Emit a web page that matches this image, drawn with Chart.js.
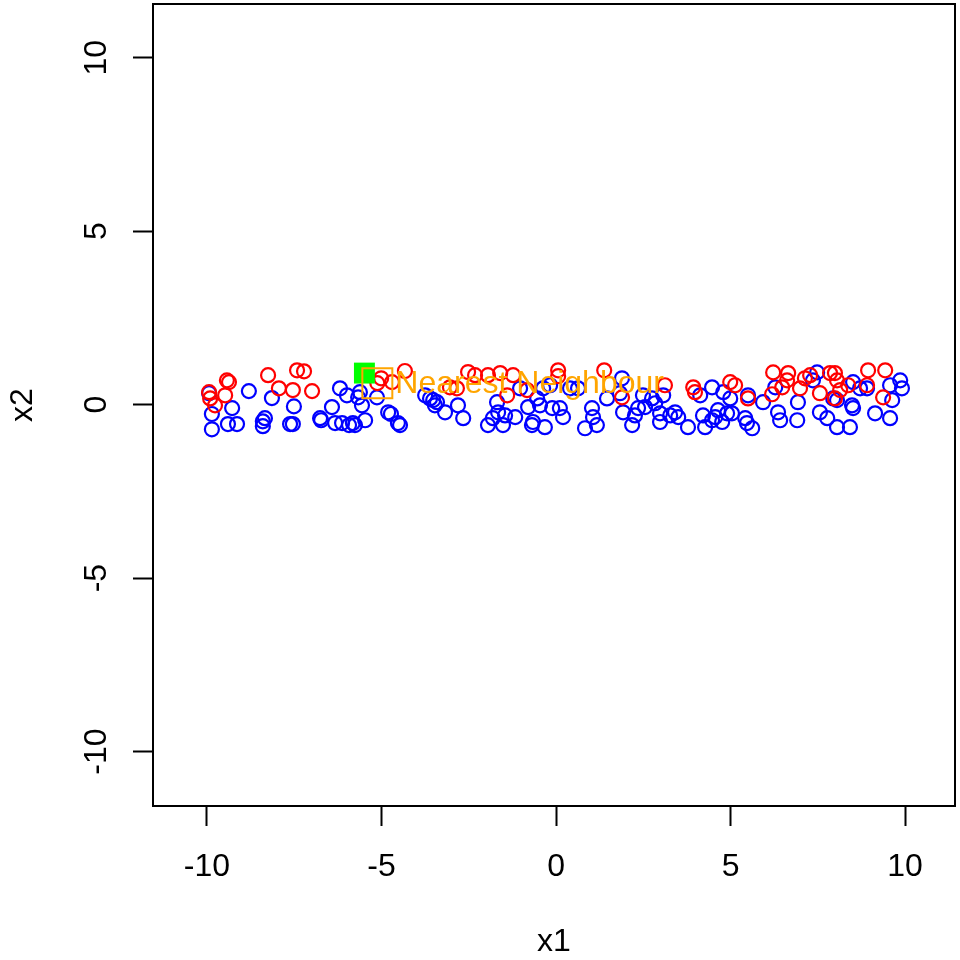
<!DOCTYPE html>
<html>
<head>
<meta charset="utf-8">
<script src="https://cdn.jsdelivr.net/npm/chart.js@4/dist/chart.umd.min.js"></script>
<style>
  html, body { margin: 0; padding: 0; background: #fff; }
  canvas { display: block; }
</style>
</head>
<body>
<canvas id="knnChart" width="960" height="960"></canvas>
<script>
/* ============================= */
/* DATA */
/* ============================= */

const redX = [-9.94, -9.91, -9.77, -9.43, -9.37, -9.48, -8.25, -7.94, -7.54, -7.42, -7.22, -6.99,
  -5.12, -5.01, -4.70, -4.33, -3.04, -2.84, -2.52, -2.32, -1.95, -1.60, -1.40, -1.23, -0.83,
  0.06, 0.06, 1.38, 1.89, 3.12, 3.93, 3.98, 4.99, 5.13, 5.50, 6.22, 6.65, 6.62, 6.99, 7.13,
  7.28, 7.56, 7.85, 7.99, 8.05, 7.99, 8.14, 8.37, 8.94, 8.91, 9.43, 9.37, 6.19, 6.48];
const redY = [0.36, 0.18, -0.02, 0.70, 0.65, 0.27, 0.85, 0.47, 0.42, 0.99, 0.96, 0.39,
  0.62, 0.76, 0.65, 0.97, 0.50, 0.47, 0.94, 0.85, 0.85, 0.91, 0.27, 0.85, 0.42,
  0.99, 0.82, 0.99, 0.21, 0.56, 0.50, 0.36, 0.65, 0.56, 0.18, 0.93, 0.91, 0.70, 0.47, 0.76,
  0.85, 0.33, 0.91, 0.91, 0.70, 0.18, 0.42, 0.56, 0.99, 0.56, 0.99, 0.21, 0.30, 0.50];

const blueX = [-9.94, -9.86, -9.86, -9.28, -9.40, -9.14, -8.80, -8.14, -8.34, -8.40, -8.40, -7.51,
  -7.62, -7.54, -6.76, -6.73, -6.42, -6.33, -6.19, -5.99, -6.13, -5.82, -5.93, -5.76, -5.47,
  -5.67, -5.56, -5.62, -5.13, -4.81, -4.73, -4.53, -4.47, -3.75, -3.61, -3.52, -3.41, -3.47,
  -3.18, -2.81, -2.66, -1.95, -1.81, -1.66, -1.52, -1.46, -1.17, -1.69, -1.03, -0.80, -0.66,
  -0.69, -0.46, -0.54, -0.32, -0.37, -0.17, -0.11, 0.11, 0.20, 0.40, 0.63, 1.03, 1.06, 0.83,
  1.17, 1.46, 1.89, 1.83, 1.92, 2.18, 2.26, 2.35, 2.49, 2.55, 2.75, 2.84, 2.98, 2.98, 3.07,
  3.27, 3.41, 3.50, 3.78, 4.13, 4.21, 4.27, 4.47, 4.47, 4.56, 4.64, 4.76, 4.90, 4.79, 4.99,
  5.04, 5.42, 5.47, 5.62, 5.50, 5.93, 6.28, 6.36, 6.42, 6.91, 6.93, 7.36, 7.48, 7.56, 7.77,
  7.94, 8.05, 8.05, 8.42, 8.48, 8.51, 8.51, 8.71, 8.91, 9.14, 9.57, 9.57, 9.63, 9.86, 9.91];
const blueY = [0.33, -0.27, -0.71, -0.10, -0.56, -0.56, 0.39, 0.19, -0.39, -0.48, -0.62, -0.05,
  -0.56, -0.56, -0.39, -0.45, -0.07, -0.53, 0.47, 0.27, -0.53, -0.53, -0.59, -0.59, -0.45,
  0.21, -0.02, 0.36, 0.21, -0.22, -0.27, -0.53, -0.59, 0.27, 0.18, 0.13, 0.07, -0.02,
  -0.22, -0.02, -0.39, -0.59, -0.39, -0.22, -0.59, -0.31, -0.36, 0.07, 0.47, -0.07, -0.50,
  -0.59, -0.02, 0.18, -0.65, 0.47, 0.56, -0.10, -0.10, -0.36, 0.47, 0.47, -0.10, -0.36, -0.68,
  -0.59, 0.18, 0.76, 0.33, -0.22, -0.59, -0.31, -0.10, 0.27, -0.07, 0.18, 0.04, -0.25, -0.50, 0.27,
  -0.31, -0.22, -0.36, -0.65, 0.27, -0.31, -0.65, 0.50, -0.45, -0.36, -0.16, -0.50, -0.25, 0.36, 0.18,
  -0.25, -0.39, -0.53, -0.68, 0.27, 0.07, 0.50, -0.22, -0.45, -0.45, 0.07, 0.70, 0.93, -0.22, -0.39,
  0.18, 0.13, -0.65, -0.65, -0.02, -0.10, 0.65, 0.47, 0.47, -0.25, -0.39, 0.56, 0.13, 0.70, 0.47];

const queryPoint = { x: -5.49, y: 0.91 };
const nearestPoint = { x: -5.12, y: 0.62 };
const nearestLabel = "Nearest Neighbour";

const xTicks = [-10, -5, 0, 5, 10];
const yTicks = [-10, -5, 0, 5, 10];
const xTitle = "x1";
const yTitle = "x2";

/* ============================= */
/* HELPERS */
/* ============================= */

const FONT = '"Liberation Sans", Arial, Helvetica, sans-serif';

function toPoints(xs, ys) {
  return xs.map((x, i) => ({ x: x, y: ys[i] }));
}

const axisText = {
  id: "axisText",
  afterDraw(chart) {
    const ctx = chart.ctx;
    const area = chart.chartArea;
    const xs = chart.scales.x;
    const ys = chart.scales.y;

    ctx.save();
    // box round the plot
    ctx.strokeStyle = "#000";
    ctx.lineWidth = 2;
    ctx.strokeRect(area.left, area.top, area.right - area.left, area.bottom - area.top);

    ctx.fillStyle = "#000";
    ctx.font = "32px " + FONT;
    ctx.textAlign = "center";
    ctx.textBaseline = "middle";

    xs.ticks.forEach((t) => {
      ctx.fillText(String(t.value), xs.getPixelForValue(t.value), 867);
    });
    ys.ticks.forEach((t) => {
      ctx.save();
      ctx.translate(97, ys.getPixelForValue(t.value));
      ctx.rotate(-Math.PI / 2);
      ctx.fillText(String(t.value), 0, 0);
      ctx.restore();
    });

    ctx.fillText(xTitle, (area.left + area.right) / 2, 942);
    ctx.save();
    ctx.translate(23, (area.top + area.bottom) / 2);
    ctx.rotate(-Math.PI / 2);
    ctx.fillText(yTitle, 0, 0);
    ctx.restore();

    // label next to the nearest neighbour
    ctx.fillStyle = "#FFA500";
    ctx.textAlign = "left";
    ctx.textBaseline = "alphabetic";
    const px = xs.getPixelForValue(nearestPoint.x);
    const py = ys.getPixelForValue(nearestPoint.y);
    ctx.fillText(nearestLabel, px + 18, py + 10);
    ctx.restore();
  },
};

/* ============================= */
/* CHART */
/* ============================= */

new Chart(document.getElementById("knnChart"), {
  type: "scatter",
  data: {
    datasets: [
      {
        label: "nearest",
        data: [nearestPoint],
        pointStyle: "rect",
        pointRadius: 21.2,
        borderColor: "#FFA500",
        backgroundColor: "rgba(0,0,0,0)",
        borderWidth: 2,
        order: 1,
      },
      {
        label: "query",
        data: [queryPoint],
        pointStyle: "rect",
        pointRadius: 14.8,
        borderWidth: 0,
        backgroundColor: "#00FF00",
        borderColor: "#00FF00",
        order: 2,
      },
      {
        label: "red",
        data: toPoints(redX, redY),
        pointRadius: 7,
        borderWidth: 2.2,
        borderColor: "#FF0000",
        backgroundColor: "rgba(0,0,0,0)",
        order: 3,
      },
      {
        label: "blue",
        data: toPoints(blueX, blueY),
        pointRadius: 7,
        borderWidth: 2.2,
        borderColor: "#0000FF",
        backgroundColor: "rgba(0,0,0,0)",
        order: 4,
      },
    ],
  },
  options: {
    responsive: false,
    animation: false,
    devicePixelRatio: 1,
    layout: { autoPadding: false, padding: { top: 4, right: 5, left: 0, bottom: 0 } },
    plugins: { legend: { display: false }, tooltip: { enabled: false } },
    elements: { point: { hoverRadius: 7 } },
    scales: {
      x: {
        type: "linear",
        position: "bottom",
        min: -11.547,
        max: 11.43,
        afterBuildTicks: (scale) => {
          scale.ticks = xTicks.map((v) => ({ value: v }));
        },
        afterFit: (scale) => {
          scale.height = 154;
        },
        ticks: { display: false },
        grid: {
          drawOnChartArea: false,
          drawTicks: true,
          tickLength: 20,
          tickWidth: 2,
          tickColor: "#000",
        },
        border: { display: false },
      },
      y: {
        type: "linear",
        position: "left",
        min: -11.57,
        max: 11.55,
        afterBuildTicks: (scale) => {
          scale.ticks = yTicks.map((v) => ({ value: v }));
        },
        afterFit: (scale) => {
          scale.width = 153;
        },
        ticks: { display: false },
        grid: {
          drawOnChartArea: false,
          drawTicks: true,
          tickLength: 20,
          tickWidth: 2,
          tickColor: "#000",
        },
        border: { display: false },
      },
    },
  },
  plugins: [axisText],
});
</script>
</body>
</html>
